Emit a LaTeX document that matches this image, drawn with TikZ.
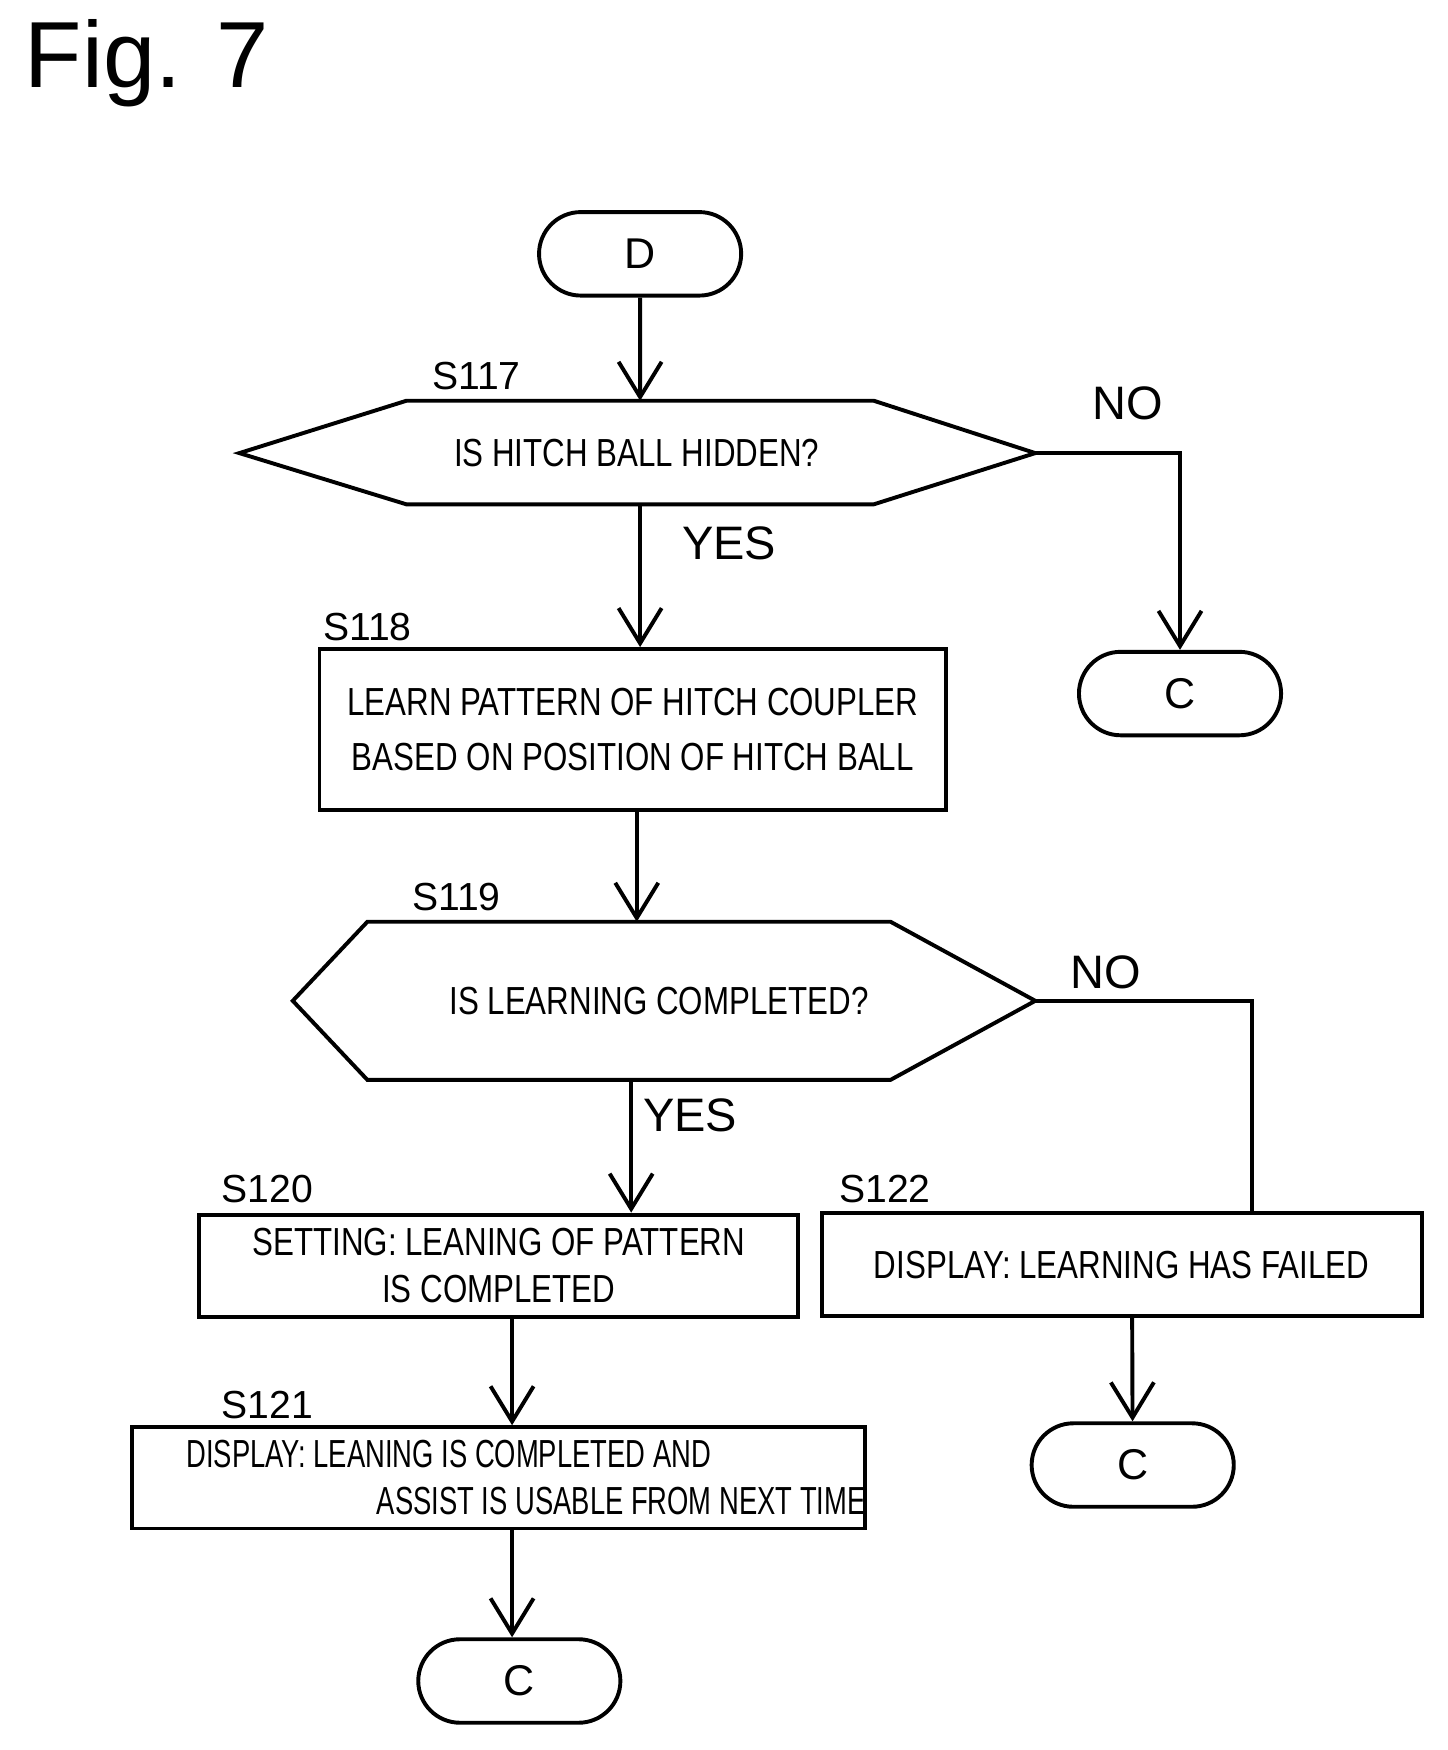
\documentclass[tikz,border=0pt]{standalone}
\usepackage{fontspec}
\setmainfont{Liberation Sans}
\usepackage{graphicx}
\usetikzlibrary{shapes.misc,arrows.meta}
\newcommand*\cnd[2][0.8]{\scalebox{#1}[1]{#2}}
\tikzset{
  flow/.style={line width=1pt, -{Straight Barb[length=9pt,width=11pt,line width=1pt]}},
  term/.style={draw, line width=1pt, rounded rectangle, minimum width=2.05cm, minimum height=0.75cm, font=\fontsize{11pt}{12pt}\selectfont},
  box/.style={draw, line width=1pt, inner sep=0pt, align=center, font=\fontsize{10pt}{12pt}\selectfont},
  stepno/.style={font=\fontsize{10pt}{12pt}\selectfont},
  ans/.style={font=\fontsize{12pt}{14pt}\selectfont},
}
\begin{document}
\begin{tikzpicture}
\useasboundingbox (0,0) rectangle (13,-15.72);
\node[anchor=north west, font=\fontsize{24pt}{28pt}\selectfont] (fig) at (0.1,-0.05) {Fig. 7};

% start
\node[term] (d) at (5.75,-2.28) {D};

% S117
\coordinate (h1l) at (2.15,-4.07);
\coordinate (h1r) at (9.30,-4.07);
\draw[line width=1pt] (h1l) -- (3.65,-3.60) -- (7.85,-3.60) -- (h1r) -- (7.85,-4.53) -- (3.65,-4.53) -- cycle;
\node[stepno] (q1) at (5.72,-4.07) {\cnd{IS HITCH BALL HIDDEN?}};
\node[stepno] (s117) at (4.28,-3.38) {S117};
\coordinate (q1b) at (5.75,-4.53);
\coordinate (q1t) at (5.75,-3.60);
\draw[flow] (d) -- (q1t);
\node[ans] (no1) at (10.13,-3.62) {NO};
\node[term] (c1) at (10.60,-6.23) {C};
\draw[flow] (h1r) -| (c1);
\node[ans] (yes1) at (6.55,-4.88) {YES};

% S118
\node[box, minimum width=5.63cm, minimum height=1.45cm] (b118) at (5.685,-6.555)
  {\cnd{LEARN PATTERN OF HITCH COUPLER}\\[2pt]\cnd{BASED ON POSITION OF HITCH BALL}};
\node[stepno] (s118) at (3.30,-5.63) {S118};
\draw[flow] (q1b) -- (b118.north -| q1b);

% S119
\coordinate (h2l) at (2.63,-8.99);
\coordinate (h2r) at (9.30,-8.99);
\draw[line width=1pt] (h2l) -- (3.30,-8.28) -- (8.00,-8.28) -- (h2r) -- (8.00,-9.70) -- (3.30,-9.70) -- cycle;
\node[stepno] (q2) at (5.92,-8.99) {\cnd{IS LEARNING COMPLETED?}};
\node[stepno] (s119) at (4.10,-8.06) {S119};
\coordinate (q2t) at (5.72,-8.28);
\coordinate (q2b) at (5.67,-9.70);
\draw[flow] (b118.south -| q2t) -- (q2t);
\node[ans] (no2) at (9.93,-8.73) {NO};
\node[ans] (yes2) at (6.20,-10.02) {YES};

% S120 / S122
\node[box, minimum width=5.38cm, minimum height=0.92cm] (b120) at (4.48,-11.37)
  {\cnd{SETTING: LEANING OF PATTERN}\\\cnd{IS COMPLETED}};
\node[stepno] (s120) at (2.40,-10.68) {S120};
\draw[flow] (q2b) -- (b120.north -| q2b);
\node[box, minimum width=5.39cm, minimum height=0.92cm] (b122) at (10.075,-11.36)
  {\cnd{DISPLAY: LEARNING HAS FAILED}};
\node[stepno] (s122) at (7.95,-10.68) {S122};
\draw[line width=1pt] (h2r) -| (b122.north -| 11.25,0);

% S121
\node[box, minimum width=5.38cm, minimum height=0.91cm] (b121) at (4.48,-13.275)
  {\cnd[0.7]{DISPLAY: LEANING IS COMPLETED AND}\hspace*{0.9cm}\\\hspace*{2.2cm}\cnd[0.7]{ASSIST IS USABLE FROM NEXT TIME}};
\node[stepno] (s121) at (2.40,-12.62) {S121};
\draw[flow] (b120.south -| 4.60,0) -- (b121.north -| 4.60,0);

% ends
\node[term] (c2) at (4.665,-15.10) {C};
\draw[flow] (b121.south -| 4.60,0) -- (c2.north -| 4.60,0);
\node[term] (c3) at (10.175,-13.16) {C};
\draw[flow] (b122.south -| 10.17,0) -- (c3);
\end{tikzpicture}
\end{document}
